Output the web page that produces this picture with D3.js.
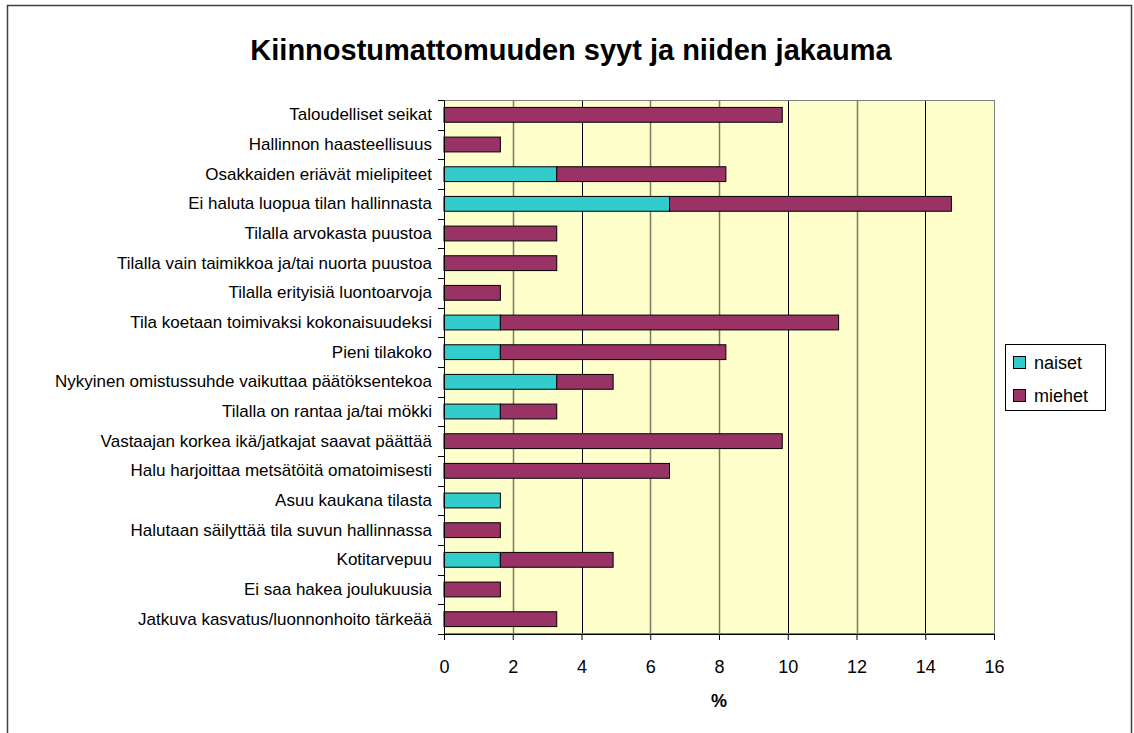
<!DOCTYPE html>
<html>
<head>
<meta charset="utf-8">
<script src="https://cdn.jsdelivr.net/npm/d3@7"></script>
<style>
  body { margin: 0; background: #fff; }
  svg { display: block; font-family: "Liberation Sans", Arial, sans-serif; }
</style>
</head>
<body>
<svg id="chart" width="1134" height="733"></svg>
<script>
const categories = [
  'Taloudelliset seikat',
  'Hallinnon haasteellisuus',
  'Osakkaiden eriävät mielipiteet',
  'Ei haluta luopua tilan hallinnasta',
  'Tilalla arvokasta puustoa',
  'Tilalla vain taimikkoa ja/tai nuorta puustoa',
  'Tilalla erityisiä luontoarvoja',
  'Tila koetaan toimivaksi kokonaisuudeksi',
  'Pieni tilakoko',
  'Nykyinen omistussuhde vaikuttaa päätöksentekoa',
  'Tilalla on rantaa ja/tai mökki',
  'Vastaajan korkea ikä/jatkajat saavat päättää',
  'Halu harjoittaa metsätöitä omatoimisesti',
  'Asuu kaukana tilasta',
  'Halutaan säilyttää tila suvun hallinnassa',
  'Kotitarvepuu',
  'Ei saa hakea joulukuusia',
  'Jatkuva kasvatus/luonnonhoito tärkeää',
];
const naiset = [0, 0, 3.28, 6.56, 0, 0, 0, 1.64, 1.64, 3.28, 1.64, 0, 0, 1.64, 0, 1.64, 0, 0];
const miehet = [9.84, 1.64, 4.92, 8.2, 3.28, 3.28, 1.64, 9.84, 6.56, 1.64, 1.64, 9.84, 6.56, 0, 1.64, 3.28, 1.64, 3.28];
const seriesNames = ['naiset', 'miehet'];
const seriesColors = ['#33CCCC', '#993366'];
const xTicks = [0, 2, 4, 6, 8, 10, 12, 14, 16];

const svg = d3.select('#chart');
const margin = { top: 100, left: 444 };
const width = 550;
const height = 534;

// chart area border
svg.append('rect')
  .attr('x', 7.5).attr('y', 5.5)
  .attr('width', 1124).attr('height', 740)
  .attr('fill', '#fff')
  .attr('stroke', '#404040')
  .attr('stroke-width', 1.5);

svg.append('text')
  .attr('x', 571).attr('y', 60)
  .attr('text-anchor', 'middle')
  .attr('font-size', 29)
  .attr('font-weight', 'bold')
  .text('Kiinnostumattomuuden syyt ja niiden jakauma');

const x = d3.scaleLinear().domain([0, 16]).range([0, width]);
const y = d3.scaleBand().domain(categories).range([0, height]).paddingInner(0.5).paddingOuter(0.25);

const g = svg.append('g').attr('transform', `translate(${margin.left},${margin.top})`);

g.append('rect')
  .attr('width', width).attr('height', height)
  .attr('fill', '#FFFFCC');

// gridlines (some come out lighter, as in the original rendering)
g.append('g')
  .selectAll('line')
  .data(xTicks.slice(1, -1))
  .join('line')
  .attr('x1', d => Math.round(x(d)) + 0.5)
  .attr('x2', d => Math.round(x(d)) + 0.5)
  .attr('y1', 0).attr('y2', height)
  .attr('stroke', d => ([4, 10, 14].includes(d) ? '#000' : '#7a7a6a'))
  .attr('stroke-width', d => ([4, 10, 14].includes(d) ? 1 : 1.5));

// plot border
g.append('rect')
  .attr('x', 0.5).attr('y', 0.5)
  .attr('width', width).attr('height', height - 1)
  .attr('fill', 'none')
  .attr('stroke', '#808080');

const stacked = d3.stack().keys(seriesNames)(categories.map((c, i) => ({ c, naiset: naiset[i], miehet: miehet[i] })));

g.append('g')
  .selectAll('g')
  .data(stacked)
  .join('g')
  .attr('fill', (d, i) => seriesColors[i])
  .selectAll('rect')
  .data(d => d.filter(p => p[1] - p[0] > 0))
  .join('rect')
  .attr('x', d => x(d[0]))
  .attr('y', d => y(d.data.c))
  .attr('width', d => x(d[1]) - x(d[0]))
  .attr('height', y.bandwidth())
  .attr('stroke', '#000')
  .attr('stroke-width', 1);

// y axis
const yAxis = g.append('g')
  .call(d3.axisLeft(y).tickSize(0).tickPadding(12));
yAxis.select('.domain').attr('stroke', '#000');
yAxis.selectAll('text').attr('font-size', 17).attr('fill', '#000')
  .attr('font-family', '"Liberation Sans", Arial, sans-serif');
g.append('g')
  .selectAll('line')
  .data(d3.range(categories.length + 1))
  .join('line')
  .attr('x1', -6).attr('x2', 0)
  .attr('y1', i => Math.round(i * height / categories.length) + 0.5)
  .attr('y2', i => Math.round(i * height / categories.length) + 0.5)
  .attr('stroke', '#000');

// x axis
const xAxis = g.append('g')
  .attr('transform', `translate(0,${height})`)
  .call(d3.axisBottom(x).tickValues(xTicks).tickSize(6).tickPadding(20).tickSizeOuter(0));
xAxis.select('.domain').attr('stroke', '#000');
xAxis.selectAll('line').attr('stroke', '#000');
xAxis.selectAll('text').attr('font-size', 18).attr('fill', '#000')
  .attr('font-family', '"Liberation Sans", Arial, sans-serif');

g.append('text')
  .attr('x', x(8)).attr('y', height + 73)
  .attr('text-anchor', 'middle')
  .attr('font-size', 18)
  .attr('font-weight', 'bold')
  .text('%');

// legend
const legend = svg.append('g').attr('transform', 'translate(1005,344)');
legend.append('rect')
  .attr('x', 0.5).attr('y', 0.5)
  .attr('width', 100).attr('height', 66)
  .attr('fill', '#fff').attr('stroke', '#000');
const items = legend.selectAll('g.item')
  .data(seriesNames)
  .join('g')
  .attr('class', 'item')
  .attr('transform', (d, i) => `translate(8,${12 + i * 33})`);
items.append('rect')
  .attr('x', 0.5).attr('y', 0.5)
  .attr('width', 12).attr('height', 12)
  .attr('fill', (d, i) => seriesColors[i])
  .attr('stroke', '#000');
items.append('text')
  .attr('x', 21).attr('y', 13)
  .attr('font-size', 18)
  .text(d => d);
</script>
</body>
</html>
